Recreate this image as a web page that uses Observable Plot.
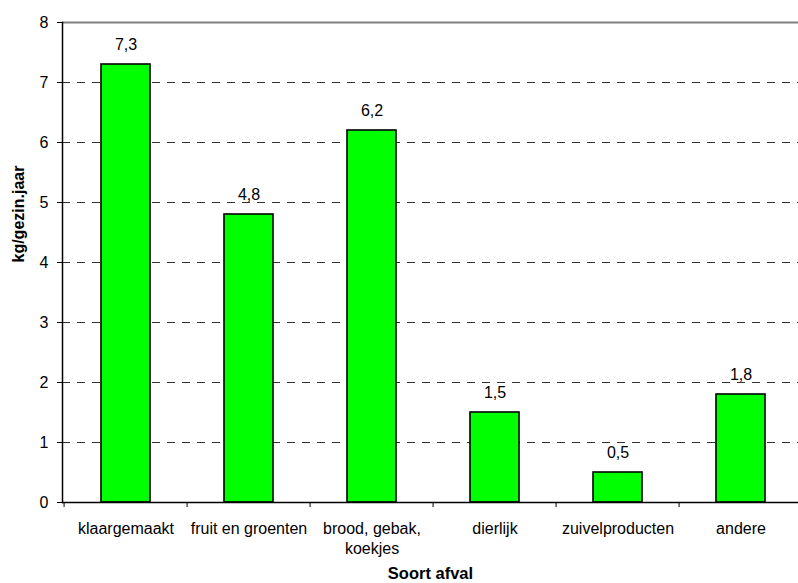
<!DOCTYPE html>
<html>
<head>
<meta charset="utf-8">
<script src="https://cdn.jsdelivr.net/npm/d3@7"></script>
<script src="https://cdn.jsdelivr.net/npm/@observablehq/plot@0.6"></script>
<style>
  html, body { margin: 0; padding: 0; background: #fff; }
  #chart svg { display: block; }
</style>
</head>
<body>
<div id="chart"></div>
<script>
// Voedselverspilling per soort afval (kg per gezin per jaar)
const categories = ["klaargemaakt", "fruit en groenten", "brood, gebak, koekjes", "dierlijk", "zuivelproducten", "andere"];
const tickLabels = ["klaargemaakt", "fruit en groenten", "brood, gebak,\nkoekjes", "dierlijk", "zuivelproducten", "andere"];
const values = [7.3, 4.8, 6.2, 1.5, 0.5, 1.8];
const yTicks = [0, 1, 2, 3, 4, 5, 6, 7, 8];
const gridTicks = [1, 2, 3, 4, 5, 6, 7];

const data = categories.map((c, i) => ({ soort: c, kg: values[i] }));
const labelOf = new Map(categories.map((c, i) => [c, tickLabels[i]]));
const fmt = v => String(v).replace(".", ",");

const W = 798, H = 583;
const left = 62, plotRight = 805;
const step = (plotRight - left) / categories.length;
const font = "Liberation Sans, Arial, Helvetica, sans-serif";

const chart = Plot.plot({
  width: W,
  height: H,
  marginTop: 22,
  marginBottom: 81,
  marginLeft: left,
  marginRight: 0,
  style: { fontFamily: font, fontSize: "16px", background: "#fff", color: "#000" },
  x: { domain: categories, range: [left, plotRight], paddingInner: 0.6, paddingOuter: 0.3, align: 0.5 },
  y: { domain: [0, 8], range: [502, 22] },
  marks: [
    // horizontal gridlines
    Plot.ruleY(gridTicks, { stroke: "#000", strokeWidth: 1, strokeDasharray: "8,7", strokeOpacity: 0.8 }),
    Plot.ruleY([8], { stroke: "#808080", strokeWidth: 2 }),
    // bars
    Plot.barY(data, { x: "soort", y: "kg", fill: "#00ff00", stroke: "#000", strokeWidth: 1.6 }),
    // value labels
    Plot.text(data, { x: "soort", y: "kg", text: d => fmt(d.kg), dy: -15, lineAnchor: "bottom", fontSize: 16 }),
    // axis lines
    Plot.ruleY([0], { stroke: "#000", strokeWidth: 1.5 }),
    Plot.frame({ anchor: "left", stroke: "#000", strokeWidth: 1.5 }),
    // y axis ticks and labels
    Plot.axisY({ ticks: yTicks, tickSize: 5, tickPadding: 9, tickFormat: d => String(d), fontSize: 16, label: null }),
    // x tick marks at category boundaries
    Plot.axisX({ tickSize: 5, text: null, dx: -step / 2, label: null }),
    // x category labels
    Plot.text(categories, { x: d => d, text: d => labelOf.get(d), frameAnchor: "bottom", dy: 17, lineAnchor: "top", lineHeight: 1.25, fontSize: 16 }),
    // axis titles
    Plot.text(["Soort afval"], { frameAnchor: "bottom", dy: 76, fontWeight: "bold", fontSize: 16.5 }),
    Plot.text(["kg/gezin.jaar"], { frameAnchor: "left", dx: -44, rotate: -90, fontWeight: "bold", fontSize: 16 })
  ]
});

document.getElementById("chart").appendChild(chart);
</script>
</body>
</html>
